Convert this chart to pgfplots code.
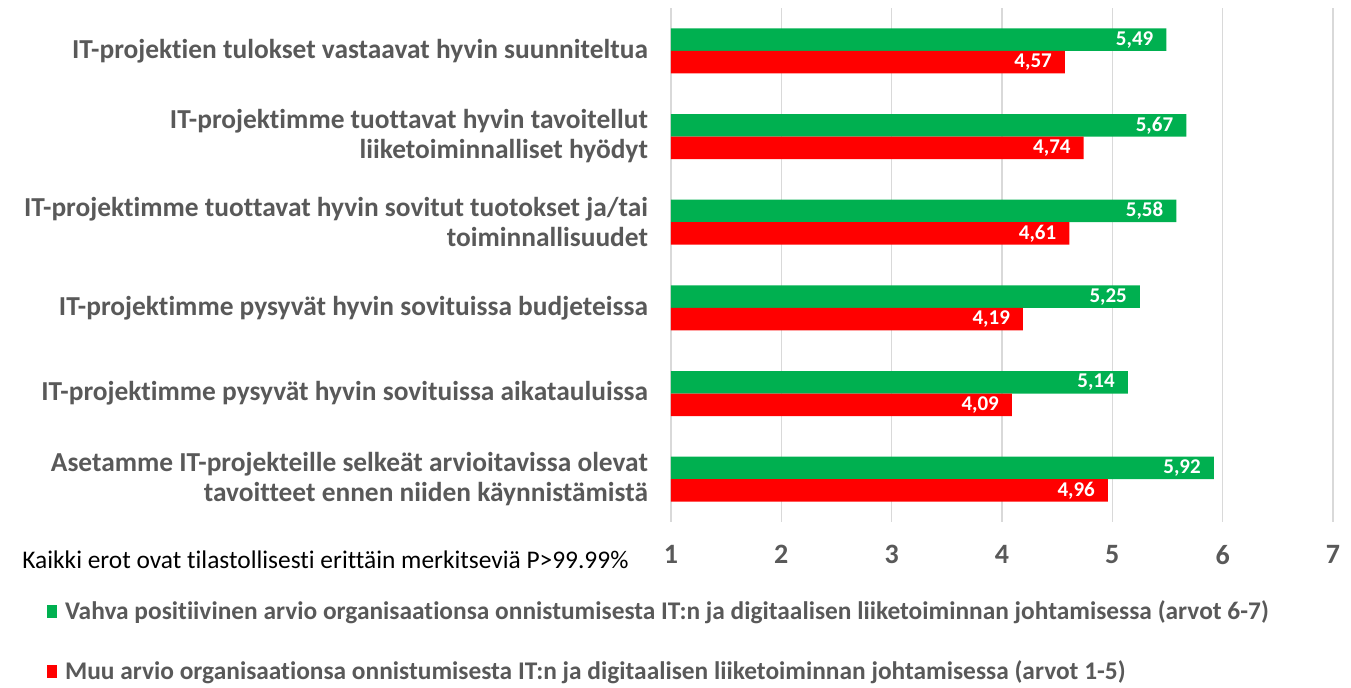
\documentclass[border=0pt]{standalone}
\usepackage{fontspec}
\setmainfont{Carlito}[Ligatures=NoCommon]
\usepackage{pgfplots}
\pgfplotsset{compat=1.18}
\definecolor{grn}{HTML}{00B050}
\definecolor{rd}{HTML}{FF0000}
\definecolor{txt}{HTML}{595959}
\definecolor{grd}{HTML}{D9D9D9}
\begin{document}
\begin{tikzpicture}
\path[use as bounding box] (0,0) rectangle (675.5pt,-343.5pt);
\begin{axis}[
  at={(335.5pt,-261pt)}, anchor=south west,
  scale only axis, width=331pt, height=257pt,
  xbar, bar width=11.25pt,
  xmin=1, xmax=7, ymin=-0.5, ymax=5.5, y dir=reverse,
  axis line style={draw=none},
  xtick={1,...,7}, ytick={0,...,5},
  major tick length=0pt,
  xmajorgrids, grid style={grd, line width=0.75pt},
  /pgf/number format/assume math mode=true,
  xticklabel style={font=\bfseries\fontsize{14}{16}\selectfont, text=txt, yshift=-8pt},
  yticklabel style={font=\bfseries\fontsize{13.7}{15}\selectfont, text=txt, align=right, xshift=-8pt},
  yticklabels={
    IT-projektien tulokset vastaavat hyvin suunniteltua,
    {IT-projektimme tuottavat hyvin tavoitellut\\liiketoiminnalliset hyödyt},
    {IT-projektimme tuottavat hyvin sovitut tuotokset ja/tai\\toiminnallisuudet},
    IT-projektimme pysyvät hyvin sovituissa budjeteissa,
    IT-projektimme pysyvät hyvin sovituissa aikatauluissa,
    {Asetamme IT-projekteille selkeät arvioitavissa olevat\\tavoitteet ennen niiden käynnistämistä}},
  nodes near coords,
  nodes near coords style={anchor=east, xshift=-3pt, text=white,
    font=\bfseries\fontsize{10.5}{12}\selectfont,
    /pgf/number format/.cd, fixed, fixed zerofill, precision=2, use comma, assume math mode=true},
  legend style={at={(axis description cs:-0.943,-0.145)}, anchor=north west,
    draw=none, fill=none, font=\bfseries\fontsize{12.7}{14}\selectfont, text=txt,
    row sep=15pt, inner sep=0pt},
  legend cell align=left,
  legend image code/.code={\fill[#1] (0pt,-3.25pt) rectangle (5pt,3.25pt); \path (7pt,0pt);},
]
\addplot[fill=grn, draw=none, bar shift=5.625pt] coordinates {
  (5.49,0) (5.67,1) (5.58,2) (5.25,3) (5.14,4) (5.92,5)};
\addlegendentry{Vahva positiivinen arvio organisaationsa onnistumisesta IT:n ja digitaalisen liiketoiminnan johtamisessa (arvot 6-7)}
\addplot[fill=rd, draw=none, bar shift=-5.625pt] coordinates {
  (4.57,0) (4.74,1) (4.61,2) (4.19,3) (4.09,4) (4.96,5)};
\addlegendentry{Muu arvio organisaationsa onnistumisesta IT:n ja digitaalisen liiketoiminnan johtamisessa (arvot 1-5)}
\end{axis}
\node[anchor=base west, font=\fontsize{12.7}{14}\selectfont, inner sep=0pt] at (11pt,-284pt)
  {Kaikki erot ovat tilastollisesti erittäin merkitseviä P>99.99\%};
\end{tikzpicture}
\end{document}
